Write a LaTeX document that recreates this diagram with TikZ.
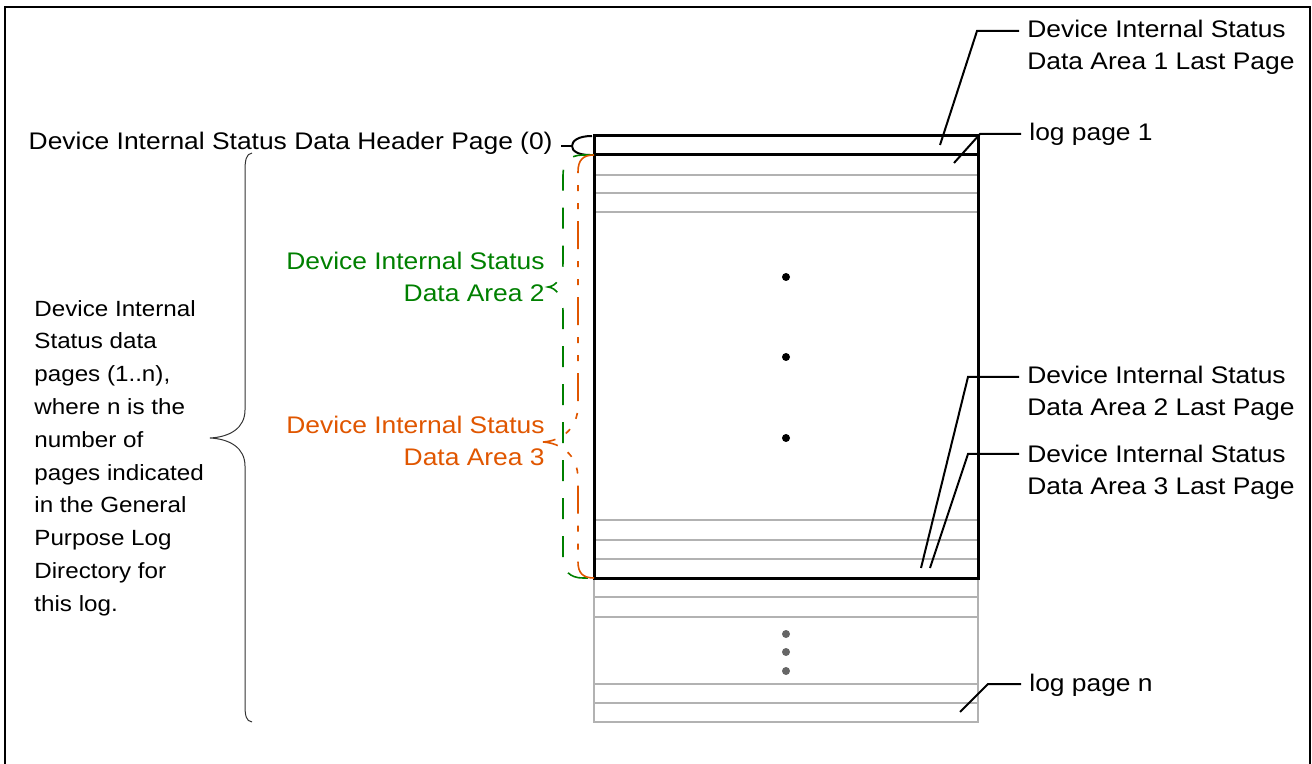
\documentclass[tikz,border=0pt]{standalone}
\usepackage{fontspec}
\setmainfont{Liberation Sans}[FakeStretch=1.1]
\usepackage{tikz}
\usetikzlibrary{positioning, calc}
\definecolor{areaTwo}{RGB}{0,128,0}
\definecolor{areaThree}{RGB}{224,86,0}
\tikzstyle{frame}=[color=black, line width=1.2pt]
\tikzstyle{pageBox}=[color=black, line width=1.5pt]
\tikzstyle{pageLine}=[color=black!30, line width=1pt]
\tikzstyle{leader}=[color=black, line width=1pt]
\tikzstyle{bigBrace}=[color=black!80, line width=0.5pt]
\tikzstyle{areaTwoBrace}=[color=areaTwo, line width=0.8pt, dash pattern=on 10.5pt off 8.5pt]
\tikzstyle{areaThreeBrace}=[color=areaThree, line width=0.8pt,
  dash pattern=on 14pt off 6pt on 3pt off 6pt on 3pt off 6pt]
\tikzstyle{txt}=[inner sep=4pt, align=left, font=\fontsize{12}{16}\selectfont]

\begin{document}
\begin{tikzpicture}[x=0.5pt, y=-0.5pt]
  \useasboundingbox (0,0) rectangle (1312,764);
  % outer frame, open at the bottom
  \draw[frame] (5,764) -- (5,7) -- (1310,7) -- (1310,764);

  % pages after the last data area
  \draw[pageLine] (594,578) -- (594,722) -- (978,722) -- (978,578);
  \foreach \y in {597,617,684,703}
    \draw[pageLine] (594,\y) -- (978,\y);
  \foreach \y in {634,652,671}
    \fill[black!60] (786,\y) circle (2pt);

  % data pages inside the log
  \foreach \y in {175,193,212,520,540,559}
    \draw[pageLine] (594,\y) -- (978,\y);
  \foreach \y in {277,357,438}
    \fill (786,\y) circle (2pt);

  \draw[pageBox] (594,136) rectangle (978,578);
  \draw[pageBox] (594,155) -- (978,155);

  % header page
  \node[txt, anchor=east] (hdrLabel) at (561,143) {Device Internal Status Data Header Page (0)};
  \coordinate (hdrCap) at (571,146);
  \draw[leader] (hdrLabel.east |- hdrCap) -- (hdrCap);
  \draw[leader] (592,136) .. controls (578,136) and (572,141) .. (572,146)
    .. controls (572,151) and (578,155) .. (590,155);

  % brace over all data pages
  \draw[bigBrace] (252,153) .. controls (246,154) and (245,160) .. (245,172) -- (245,410)
    .. controls (245,428) and (230,437) .. (210,438)
    .. controls (230,439) and (245,448) .. (245,466) -- (245,704)
    .. controls (245,716) and (246,721) .. (252,722);
  \node[txt, anchor=west, font=\fontsize{11}{16.4}\selectfont] (pagesText) at (26,458)
    {Device Internal\\Status data\\pages (1..n),\\where n is the\\number of\\pages indicated\\in the General\\Purpose Log\\Directory for\\this log.};

  % data area 2 and 3
  \draw[areaTwoBrace] (594,155) -- (583,155) .. controls (570,155) and (563,162) .. (563,175) -- (563,262)
    .. controls (563,278) and (556,286) .. (548,287)
    .. controls (556,288) and (563,296) .. (563,312) -- (563,558)
    .. controls (563,571) and (570,578) .. (583,578) -- (594,578);
  \draw[areaThreeBrace] (594,155) .. controls (583,155) and (578,160) .. (578,172) -- (578,405)
    .. controls (578,430) and (560,441) .. (543,442)
    .. controls (560,443) and (578,454) .. (578,479) -- (578,562)
    .. controls (578,573) and (583,578) .. (594,578);
  \node[txt, anchor=east, align=right, text=areaTwo] (area2Label) at (553,277)
    {Device Internal Status\\Data Area 2};
  \node[txt, anchor=east, align=right, text=areaThree] (area3Label) at (553,441)
    {Device Internal Status\\Data Area 3};

  % callouts on the right
  \node[txt, anchor=west] (area1Text) at (1019,47) {Device Internal Status\\Data Area 1 Last Page};
  \node[txt, anchor=west] (log1Text) at (1021,134) {log page 1};
  \node[txt, anchor=west] (area2Text) at (1019,393) {Device Internal Status\\Data Area 2 Last Page};
  \node[txt, anchor=west] (area3Text) at (1019,472) {Device Internal Status\\Data Area 3 Last Page};
  \node[txt, anchor=west] (logNText) at (1021,685) {log page n};

  \coordinate (area1Foot) at (940,145);
  \coordinate (area1Knee) at (977,31);
  \coordinate (log1Foot) at (954,163);
  \coordinate (log1Knee) at (980,134);
  \coordinate (area2Foot) at (921,568);
  \coordinate (area2Knee) at (968,377);
  \coordinate (area3Foot) at (930,568);
  \coordinate (area3Knee) at (968,454);
  \coordinate (logNFoot) at (960,712);
  \coordinate (logNKnee) at (988,684);

  \draw[leader] (area1Foot) -- (area1Knee) -- (area1Knee -| area1Text.west);
  \draw[leader] (log1Foot) -- (log1Knee) -- (log1Knee -| log1Text.west);
  \draw[leader] (area2Foot) -- (area2Knee) -- (area2Knee -| area2Text.west);
  \draw[leader] (area3Foot) -- (area3Knee) -- (area3Knee -| area3Text.west);
  \draw[leader] (logNFoot) -- (logNKnee) -- (logNKnee -| logNText.west);
\end{tikzpicture}
\end{document}
